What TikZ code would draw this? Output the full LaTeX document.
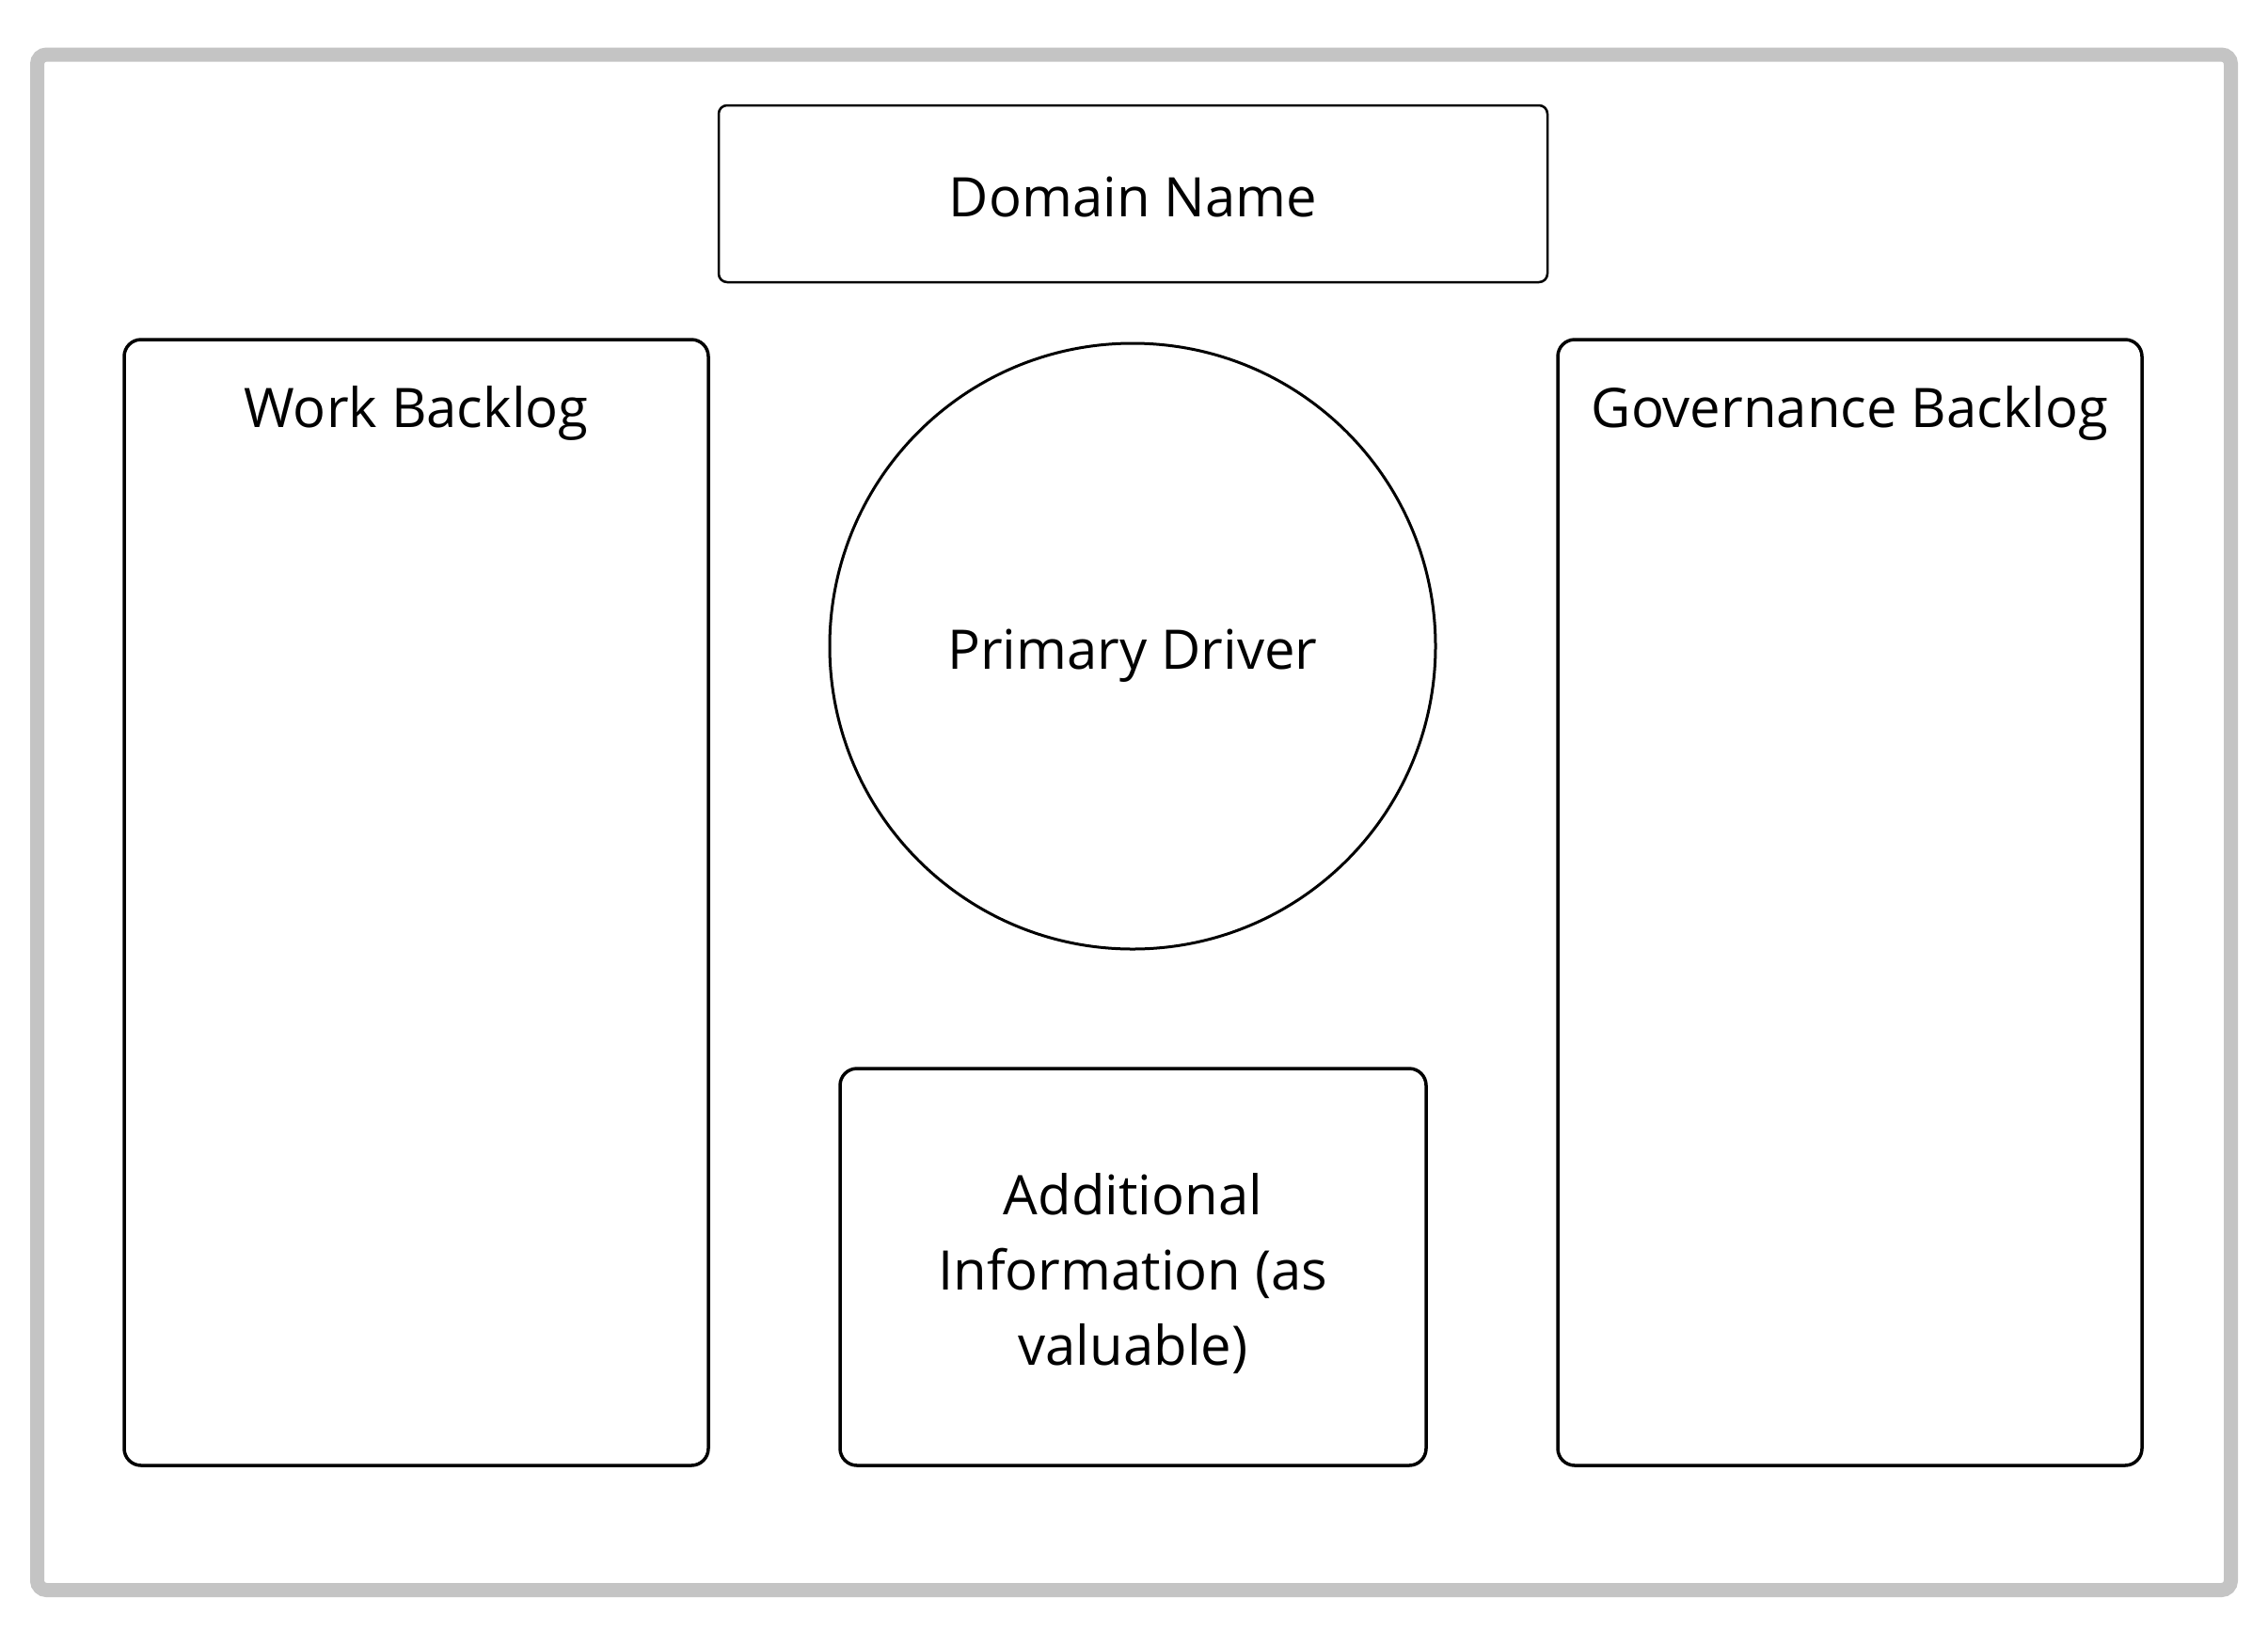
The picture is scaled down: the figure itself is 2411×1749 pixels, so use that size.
\documentclass[tikz,border=0pt]{standalone}
\usepackage{fontspec}
\setmainfont{Open Sans}
\definecolor{framegray}{HTML}{C4C4C4}
\tikzset{
  bigtext/.style={font=\fontsize{58}{80}\selectfont, inner sep=0pt},
  panel/.style={draw=black, line width=3.5pt, rounded corners=18pt, rectangle, inner sep=0pt},
  titlebox/.style={draw=black, line width=2.5pt, rounded corners=9pt, rectangle, inner sep=0pt},
}
\begin{document}
\begin{tikzpicture}[x=1pt,y=-1pt]
\useasboundingbox (0,0) rectangle (2411,1749);
\fill[white] (0,0) rectangle (2411,1749);
% outer frame
\draw[framegray, line width=15pt, rounded corners=10pt] (39.5,58) rectangle (2371.5,1690.5);
% domain name
\node[titlebox, minimum width=881pt, minimum height=188pt] (domain) at (1204.5,206) {};
\node[bigtext, anchor=base] (domaintxt) at (1204.5,230) {Domain Name};
% work backlog
\node[panel, minimum width=621pt, minimum height=1197pt] (work) at (442.5,959.5) {};
\node[bigtext, anchor=base] (worktxt) at (442.5,454) {Work Backlog};
% governance backlog
\node[panel, minimum width=621pt, minimum height=1197pt] (gov) at (1966.5,959.5) {};
\node[bigtext, anchor=base] (govtxt) at (1966.5,454) {Governance Backlog};
% primary driver
\node[draw=black, line width=3pt, circle, minimum size=644pt, inner sep=0pt] (driver) at (1204,687) {};
\node[bigtext, anchor=base] (drivertxt) at (1204,711) {Primary Driver};
% additional info
\node[panel, minimum width=623pt, minimum height=422pt] (info) at (1204.5,1347) {};
\node[bigtext, align=center, anchor=north] (infotxt) at (1204.5,1247) {Additional\\Information (as\\valuable)};
\end{tikzpicture}
\end{document}
